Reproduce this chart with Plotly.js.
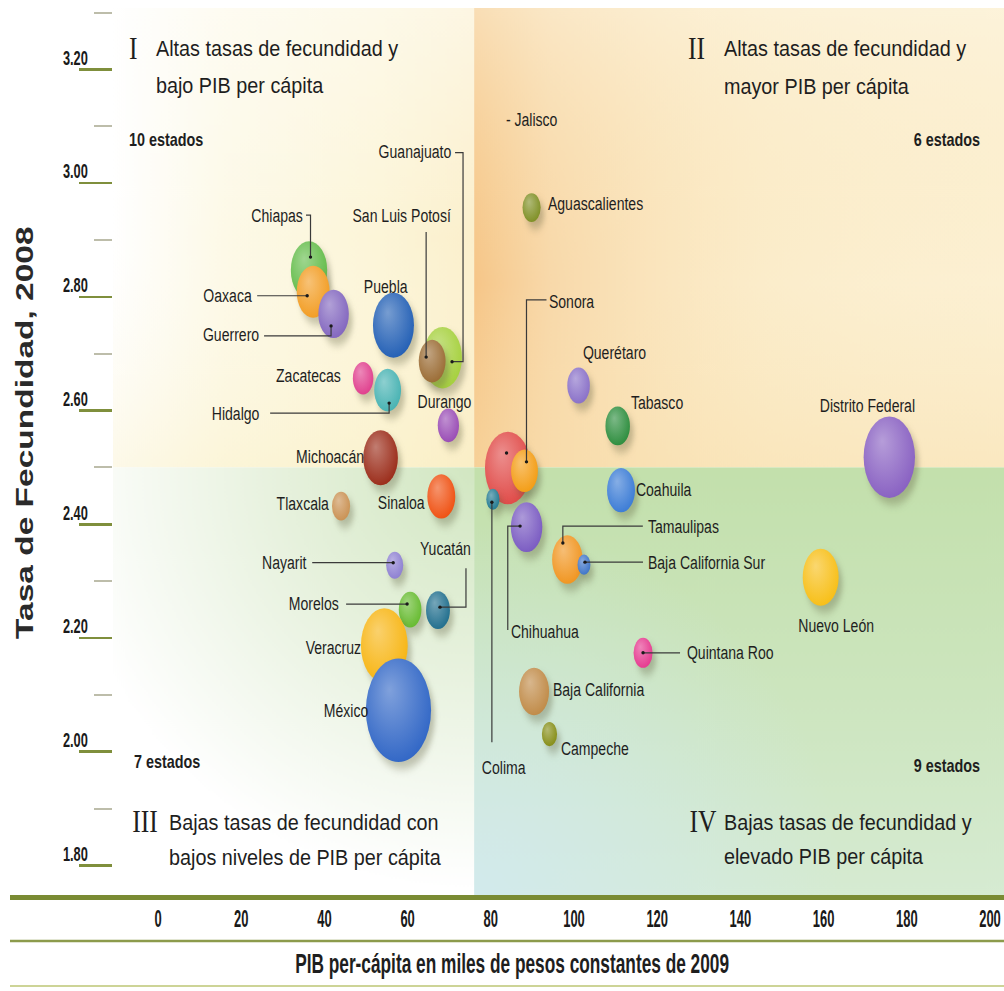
<!DOCTYPE html>
<html>
<head>
<meta charset="utf-8">
<script src="https://cdn.plot.ly/plotly-3.0.1.min.js"></script>
<style>
html,body{margin:0;padding:0;background:#ffffff;}
#chart{width:1004px;height:991px;}
</style>
</head>
<body>
<div id="chart"></div>
<script>
// ---------------- DATA ----------------
const estados = ["Chiapas","Oaxaca","Guerrero","Puebla","Guanajuato","San Luis Potosí","Zacatecas","Hidalgo","Durango","Michoacán",
  "Jalisco","Sonora","Aguascalientes","Querétaro","Tabasco","Distrito Federal",
  "Tlaxcala","Sinaloa","Nayarit","Morelos","Yucatán","Veracruz","México",
  "Colima","Coahuila","Chihuahua","Tamaulipas","Baja California Sur","Nuevo León","Quintana Roo","Baja California","Campeche"];
// PIB per cápita (miles de pesos constantes de 2009)
const pib = [36.3,37.3,42.2,56.6,68.4,65.9,49.3,55.2,69.8,53.5,
  84.1,88.1,89.8,101.1,110.5,175.8,
  44.0,68.1,56.9,60.6,67.3,54.4,57.8,
  80.5,111.3,88.6,98.4,102.4,159.3,116.6,90.4,94.1];
// Tasa de fecundidad 2008
const fecundidad = [2.847,2.809,2.770,2.750,2.693,2.687,2.657,2.636,2.574,2.517,
  2.499,2.494,2.957,2.644,2.573,2.518,
  2.432,2.449,2.328,2.250,2.249,2.187,2.073,
  2.444,2.460,2.395,2.338,2.329,2.307,2.174,2.106,2.031];
// Población (millones) -> tamaño de la burbuja
const poblacion = [4.4,3.6,3.1,5.6,5.0,2.4,1.4,2.4,1.5,4.0,
  7.0,2.4,1.1,1.7,2.0,8.8,
  1.1,2.6,0.97,1.7,1.9,7.3,14.2,
  0.58,2.6,3.3,3.1,0.55,4.3,1.2,3.0,0.77];
const yTicks = [1.8,2.0,2.2,2.4,2.6,2.8,3.0,3.2];
const yTickText = ["1.80","2.00","2.20","2.40","2.60","2.80","3.00","3.20"];
const xTicks = [0,20,40,60,80,100,120,140,160,180,200];
const xTickText = ["0","20","40","60","80","100","120","140","160","180","200"];
const cuadranteNum = ["I","II","III","IV"];
const cuadranteLinea1 = ["Altas tasas de fecundidad y","Altas tasas de fecundidad y","Bajas tasas de fecundidad con","Bajas tasas de fecundidad y"];
const cuadranteLinea2 = ["bajo PIB per cápita","mayor PIB per cápita","bajos niveles de PIB per cápita","elevado PIB per cápita"];
const cuadranteConteo = ["10 estados","6 estados","7 estados","9 estados"];
const tituloX = "PIB per-cápita en miles de pesos constantes de 2009";
const tituloY = "Tasa de Fecundidad, 2008";
const cortePIB = 76;      // división vertical de cuadrantes
const corteFec = 2.5;     // división horizontal de cuadrantes

// ---------------- STYLE ----------------
const colores = {
  "Chiapas":"#5fba45","Oaxaca":"#f29a1d","Guerrero":"#7f62bd","Puebla":"#1d5bb3","Guanajuato":"#a3cf38",
  "San Luis Potosí":"#98682f","Zacatecas":"#df3a8a","Hidalgo":"#42b0b0","Durango":"#9647b3","Michoacán":"#982613",
  "Jalisco":"#df4542","Sonora":"#f39a0e","Aguascalientes":"#7b8c1e","Querétaro":"#866cc6","Tabasco":"#278a38",
  "Distrito Federal":"#855cc0","Tlaxcala":"#c88e4e","Sinaloa":"#ef4c0c","Nayarit":"#8a7cd0","Morelos":"#62b92a",
  "Yucatán":"#1a6a8a","Veracruz":"#f7b30c","México":"#2b62c4","Colima":"#1c768e","Coahuila":"#3678d4",
  "Chihuahua":"#7656c0","Tamaulipas":"#f0921a","Baja California Sur":"#3870c6","Nuevo León":"#f7bd10",
  "Quintana Roo":"#e5348c","Baja California":"#be8742","Campeche":"#828a10"
};
// label placement: [anchor, dx px, dy px (down)] relative to bubble centre
const labelCfg = {
  "Chiapas":["right",-5,-55],"Oaxaca":["right",-60,4],"Guerrero":["right",-73.5,21],"Puebla":["center",-7.5,-38.5],
  "San Luis Potosí":["center",-30,-146],"Guanajuato":["right",9.5,-206],"Zacatecas":["right",-21,-3],
  "Hidalgo":["right",-127.5,23],"Durango":["center",-4,-23.5],"Michoacán":["right",-15.5,-1],
  "Tlaxcala":["right",-11,-3],"Sinaloa":["right",-15.5,6.5],"Nayarit":["right",-86.5,-2.5],"Morelos":["right",-70,-6.5],
  "Yucatán":["center",8,-62],"Veracruz":["right",-22.5,2.5],"México":["right",-29.5,0],
  "Jalisco":["left",-3,-348],"Sonora":["left",23.5,-169],"Aguascalientes":["left",15.5,-4.5],"Querétaro":["left",3.5,-33.5],
  "Tabasco":["left",12.5,-23],"Distrito Federal":["center",-22,-52],"Colima":["center",11,268],"Coahuila":["left",14,-1],
  "Chihuahua":["left",-16.5,104],"Tamaulipas":["left",79.5,-33.5],"Baja California Sur":["left",63,-2.5],
  "Nuevo León":["center",15.5,48],"Quintana Roo":["left",43,0],"Baja California":["left",18,-1.5],"Campeche":["left",10.5,14]
};
const labelText = {"Jalisco":"- Jalisco"};
// leader lines: pixel offsets (dy down) from bubble centre, first point carries the dot
const leaderCfg = {
  "Chiapas":[[1.5,-13],[1.5,-55],[-3,-55]],
  "Oaxaca":[[-6,4],[-56,4]],
  "Guerrero":[[-2.5,12],[-2.5,22],[-69.5,22]],
  "San Luis Potosí":[[-6,-4],[-6,-129]],
  "Guanajuato":[[9.5,4],[20.5,4],[20.5,-205],[12.5,-205]],
  "Hidalgo":[[1.5,13],[1.5,23],[-117.5,23]],
  "Nayarit":[[-1.5,-2.5],[-82.5,-2.5]],
  "Yucatán":[[2,-3],[28,-3],[28,-42]],
  "Morelos":[[-3,-5.5],[-64,-5.5]],
  "Jalisco":[[-1.3,-15]],
  "Sonora":[[2,-9],[2,-171],[22,-171]],
  "Colima":[[-1,3],[-1,243]],
  "Chihuahua":[[-6.5,-1],[-18.8,-1],[-18.8,103]],
  "Tamaulipas":[[-4.5,-16.5],[-4.5,-33.5],[75.5,-33.5]],
  "Baja California Sur":[[1,-2.5],[59,-2.5]],
  "Quintana Roo":[[0,0],[37,0]]
};

const SANS = "'Liberation Sans',Arial,sans-serif";
const W = 1004, H = 991;
const PX = {l:113, r:1004, t:8, b:895};
const X_RANGE = [-10.82, 203.37];
const Y_RANGE = [1.748, 3.308];
function paperX(px){return (px-PX.l)/(PX.r-PX.l);}
function paperY(py){return (PX.b-py)/(PX.b-PX.t);}

function mix(hex, t, target){
  const n = parseInt(hex.slice(1),16);
  const r=(n>>16)&255,g=(n>>8)&255,b=n&255;
  const f=v=>Math.round(v);
  return 'rgb('+f(r+(target[0]-r)*t)+','+f(g+(target[1]-g)*t)+','+f(b+(target[2]-b)*t)+')';
}

// ---------- background quadrant images ----------
function gradImg(w,h,draw){
  const c=document.createElement('canvas'); c.width=w; c.height=h;
  const g=c.getContext('2d'); draw(g,w,h); return c.toDataURL('image/png');
}
const q1 = gradImg(363,462,(g,w,h)=>{
  let lg=g.createLinearGradient(0,0,w,0);
  lg.addColorStop(0,'#ffffff'); lg.addColorStop(0.3,'#fdf9e5'); lg.addColorStop(0.75,'#fcf4d3'); lg.addColorStop(1,'#fbeec7');
  g.fillStyle=lg; g.fillRect(0,0,w,h);
  let vg=g.createLinearGradient(0,0,0,h);
  vg.addColorStop(0,'rgba(255,255,255,0.5)'); vg.addColorStop(0.5,'rgba(255,255,255,0.1)'); vg.addColorStop(1,'rgba(250,240,198,0.4)');
  g.fillStyle=vg; g.fillRect(0,0,w,h);
});
const q2 = gradImg(528,462,(g,w,h)=>{
  g.fillStyle='#fcf0d2'; g.fillRect(0,0,w,h);
  let lg=g.createLinearGradient(0,0,w,0);
  lg.addColorStop(0,'rgba(246,198,136,1)'); lg.addColorStop(0.14,'rgba(248,214,165,0.9)'); lg.addColorStop(0.55,'rgba(251,232,192,0.4)'); lg.addColorStop(1,'rgba(252,240,210,0)');
  g.fillStyle=lg; g.fillRect(0,0,w,h);
  let vg=g.createLinearGradient(0,0,0,h);
  vg.addColorStop(0,'rgba(253,246,226,0.5)'); vg.addColorStop(0.6,'rgba(250,228,180,0)'); vg.addColorStop(1,'rgba(248,222,170,0.45)');
  g.fillStyle=vg; g.fillRect(0,0,w,h);
});
const q3 = gradImg(363,425,(g,w,h)=>{
  g.fillStyle='#ffffff'; g.fillRect(0,0,w,h);
  let rg=g.createRadialGradient(w,0,0,w,0,w*1.15);
  rg.addColorStop(0,'#d2e7c2'); rg.addColorStop(0.45,'#e6f1dc'); rg.addColorStop(1,'#ffffff');
  g.fillStyle=rg; g.fillRect(0,0,w,h);
});
const q4 = gradImg(528,425,(g,w,h)=>{
  let vg=g.createLinearGradient(0,0,0,h);
  vg.addColorStop(0,'#c3e0ac'); vg.addColorStop(0.5,'#cce5bd'); vg.addColorStop(1,'#d6ebd2');
  g.fillStyle=vg; g.fillRect(0,0,w,h);
  let rg=g.createRadialGradient(0,h,0,0,h,w*0.7);
  rg.addColorStop(0,'rgba(210,234,238,0.95)'); rg.addColorStop(1,'rgba(210,234,238,0)');
  g.fillStyle=rg; g.fillRect(0,0,w,h);
});
const images = [
  {source:q1, xref:'x', yref:'y', x:X_RANGE[0], y:Y_RANGE[1], sizex:cortePIB-X_RANGE[0], sizey:Y_RANGE[1]-corteFec, xanchor:'left', yanchor:'top', sizing:'stretch', layer:'below'},
  {source:q2, xref:'x', yref:'y', x:cortePIB, y:Y_RANGE[1], sizex:X_RANGE[1]-cortePIB, sizey:Y_RANGE[1]-corteFec, xanchor:'left', yanchor:'top', sizing:'stretch', layer:'below'},
  {source:q3, xref:'x', yref:'y', x:X_RANGE[0], y:corteFec, sizex:cortePIB-X_RANGE[0], sizey:corteFec-Y_RANGE[0], xanchor:'left', yanchor:'top', sizing:'stretch', layer:'below'},
  {source:q4, xref:'x', yref:'y', x:cortePIB, y:corteFec, sizex:X_RANGE[1]-cortePIB, sizey:corteFec-Y_RANGE[0], xanchor:'left', yanchor:'top', sizing:'stretch', layer:'below'}
];

// ---------- annotations (with horizontal condensing factor per text) ----------
const annotations = [];
const condense = [];   // [factor, anchor] per annotation index
function addAnn(a, k, anchor){ annotations.push(a); condense.push([k, anchor]); }

const labelFont = {family:SANS, size:19, color:'#1e1e1e'};
estados.forEach((e,i)=>{
  const c = labelCfg[e];
  addAnn({xref:'x', yref:'y', x:pib[i], y:fecundidad[i], text:labelText[e]||e, showarrow:false,
    xanchor:c[0], yanchor:'middle', xshift:c[1], yshift:-c[2], font:labelFont, borderpad:0}, 0.74, c[0]);
});
const quadPos = [
  {num:[133,48], l1:[155,49], l2:[155,86]},
  {num:[696,48], l1:[723,49], l2:[723,87]},
  {num:[145,821], l1:[168,822], l2:[168,857]},
  {num:[703,821], l1:[723,822], l2:[723,856]}
];
const quadFont = {family:SANS, size:22.5, color:'#1e1e1e'};
const numFont = {family:"'Liberation Serif','Times New Roman',serif", size:32, color:'#1e1e1e'};
quadPos.forEach((p,k)=>{
  addAnn({xref:'paper', yref:'paper', x:paperX(p.num[0]), y:paperY(p.num[1]), text:cuadranteNum[k], showarrow:false, xanchor:'center', yanchor:'middle', font:numFont, borderpad:0}, 0.8, 'center');
  addAnn({xref:'paper', yref:'paper', x:paperX(p.l1[0]), y:paperY(p.l1[1]), text:cuadranteLinea1[k], showarrow:false, xanchor:'left', yanchor:'middle', font:quadFont, borderpad:0}, 0.88, 'left');
  addAnn({xref:'paper', yref:'paper', x:paperX(p.l2[0]), y:paperY(p.l2[1]), text:cuadranteLinea2[k], showarrow:false, xanchor:'left', yanchor:'middle', font:quadFont, borderpad:0}, 0.88, 'left');
});
const countPos = [[128,140,'left'],[981,140,'right'],[133,762,'left'],[981,766,'right']];
const countFont = {family:SANS, size:18, color:'#1e1e1e', weight:'bold'};
countPos.forEach((p,k)=>{
  addAnn({xref:'paper', yref:'paper', x:paperX(p[0]), y:paperY(p[1]), text:cuadranteConteo[k], showarrow:false, xanchor:p[2], yanchor:'middle', font:countFont, borderpad:0}, 0.8, p[2]);
});
addAnn({xref:'paper', yref:'paper', x:paperX(512), y:paperY(964), text:tituloX, showarrow:false, xanchor:'center', yanchor:'middle',
  font:{family:SANS, size:27, color:'#1e1e1e', weight:'bold'}, borderpad:0}, 0.64, 'center');
addAnn({xref:'paper', yref:'paper', x:paperX(24), y:paperY(433), text:tituloY, textangle:-90, showarrow:false, xanchor:'center', yanchor:'middle',
  font:{family:SANS, size:33.5, color:'#2a2a2a', weight:'bold'}, borderpad:0}, 0.72, 'center');

// ---------- shapes ----------
const shapes = [];
estados.forEach((e,i)=>{
  const pts = leaderCfg[e];
  if(!pts) return;
  if(pts.length>1){
    const path = 'M' + pts.map(p=>p[0]+','+(-p[1])).join('L');
    shapes.push({type:'path', xref:'x', yref:'y', xsizemode:'pixel', ysizemode:'pixel', xanchor:pib[i], yanchor:fecundidad[i], path:path, line:{color:'#3a3a3a', width:1.2}});
  }
  const d = pts[0], r = 1.7;
  shapes.push({type:'circle', xref:'x', yref:'y', xsizemode:'pixel', ysizemode:'pixel', xanchor:pib[i], yanchor:fecundidad[i],
    x0:d[0]-r, x1:d[0]+r, y0:-d[1]-r, y1:-d[1]+r, fillcolor:'#1a1a1a', line:{width:0}});
});
shapes.push({type:'line', xref:'paper', yref:'paper', x0:paperX(10), x1:1, y0:paperY(897.5), y1:paperY(897.5), line:{color:'#7a8b33', width:5}});
shapes.push({type:'line', xref:'paper', yref:'paper', x0:paperX(10), x1:1, y0:paperY(941), y1:paperY(941), line:{color:'#8c9b4c', width:2.5}});
shapes.push({type:'line', xref:'paper', yref:'paper', x0:paperX(10), x1:1, y0:paperY(986), y1:paperY(986), line:{color:'#cdd497', width:2}});

// ---------- trace ----------
const trace = {
  type:'scatter', mode:'markers', x:pib, y:fecundidad, text:estados, hoverinfo:'text', cliponaxis:false,
  marker:{
    size:poblacion, sizemode:'area', sizeref:0.002647, opacity:1,
    color:estados.map(e=>colores[e]),
    gradient:{type:'radial', color:estados.map(e=>mix(colores[e],0.4,[255,255,255]))},
    line:{width:0}
  }
};

const layout = {
  width:W, height:H,
  margin:{l:PX.l, r:W-PX.r, t:PX.t, b:H-PX.b},
  paper_bgcolor:'#ffffff', plot_bgcolor:'#ffffff',
  showlegend:false,
  xaxis:{range:X_RANGE, tickmode:'array', tickvals:xTicks, ticktext:xTickText, ticks:'', showgrid:false, zeroline:false, showline:false,
    tickfont:{family:SANS, size:24, color:'#1a1a1a', weight:'bold'}, ticklabelstandoff:7, ticklabeloverflow:'allow'},
  yaxis:{range:Y_RANGE, tickmode:'array', tickvals:yTicks, ticktext:yTickText, ticks:'outside', ticklen:33, tickwidth:2.5, tickcolor:'#7f8f3c',
    showgrid:false, zeroline:false, showline:false,
    tickfont:{family:SANS, size:21, color:'#1a1a1a', weight:'bold'}, ticklabelstandoff:-13, ticklabelshift:-12, ticklabeloverflow:'allow',
    minor:{dtick:0.1, tick0:1.8, ticks:'outside', ticklen:18, tickwidth:2, tickcolor:'#bdbdaa', showgrid:false}},
  images:images, annotations:annotations, shapes:shapes
};

function condenseEl(el, k, anchor){
  if(!el) return;
  const r = el.getBoundingClientRect();
  if(!r.width) return;
  const sx = anchor==='left' ? r.left : anchor==='right' ? r.right : (r.left+r.right)/2;
  const sy = (r.top+r.bottom)/2;
  const svg = el.ownerSVGElement;
  const m = el.parentNode.getScreenCTM().inverse();
  const pt = svg.createSVGPoint(); pt.x = sx; pt.y = sy;
  const p = pt.matrixTransform(m);
  const t = el.getAttribute('transform') || '';
  el.setAttribute('transform', 'translate('+p.x+',0) scale('+k+',1) translate('+(-p.x)+',0) ' + t);
}

const gd = document.getElementById('chart');
Plotly.newPlot(gd, [trace], layout, {displayModeBar:false, staticPlot:true}).then(()=>{
  gd.querySelectorAll('.scatterlayer path.point').forEach(p=>{
    const t = p.getAttribute('transform') || '';
    p.setAttribute('transform', t + ' scale(0.63,1)');
    p.style.filter = 'drop-shadow(6px 7px 4px rgba(90,90,60,0.34))';
  });
  gd.querySelectorAll('radialGradient').forEach(g=>{
    g.setAttribute('cx','0.45'); g.setAttribute('cy','0.42');
    g.setAttribute('fx','0.36'); g.setAttribute('fy','0.3'); g.setAttribute('r','0.66');
  });
  condense.forEach((c,i)=>{
    condenseEl(gd.querySelector('.annotation[data-index="'+i+'"]'), c[0], c[1]);
  });
  gd.querySelectorAll('.xtick text').forEach(t=>condenseEl(t, 0.54, 'center'));
  gd.querySelectorAll('.ytick text').forEach(t=>condenseEl(t, 0.61, 'right'));
});
</script>
</body>
</html>
